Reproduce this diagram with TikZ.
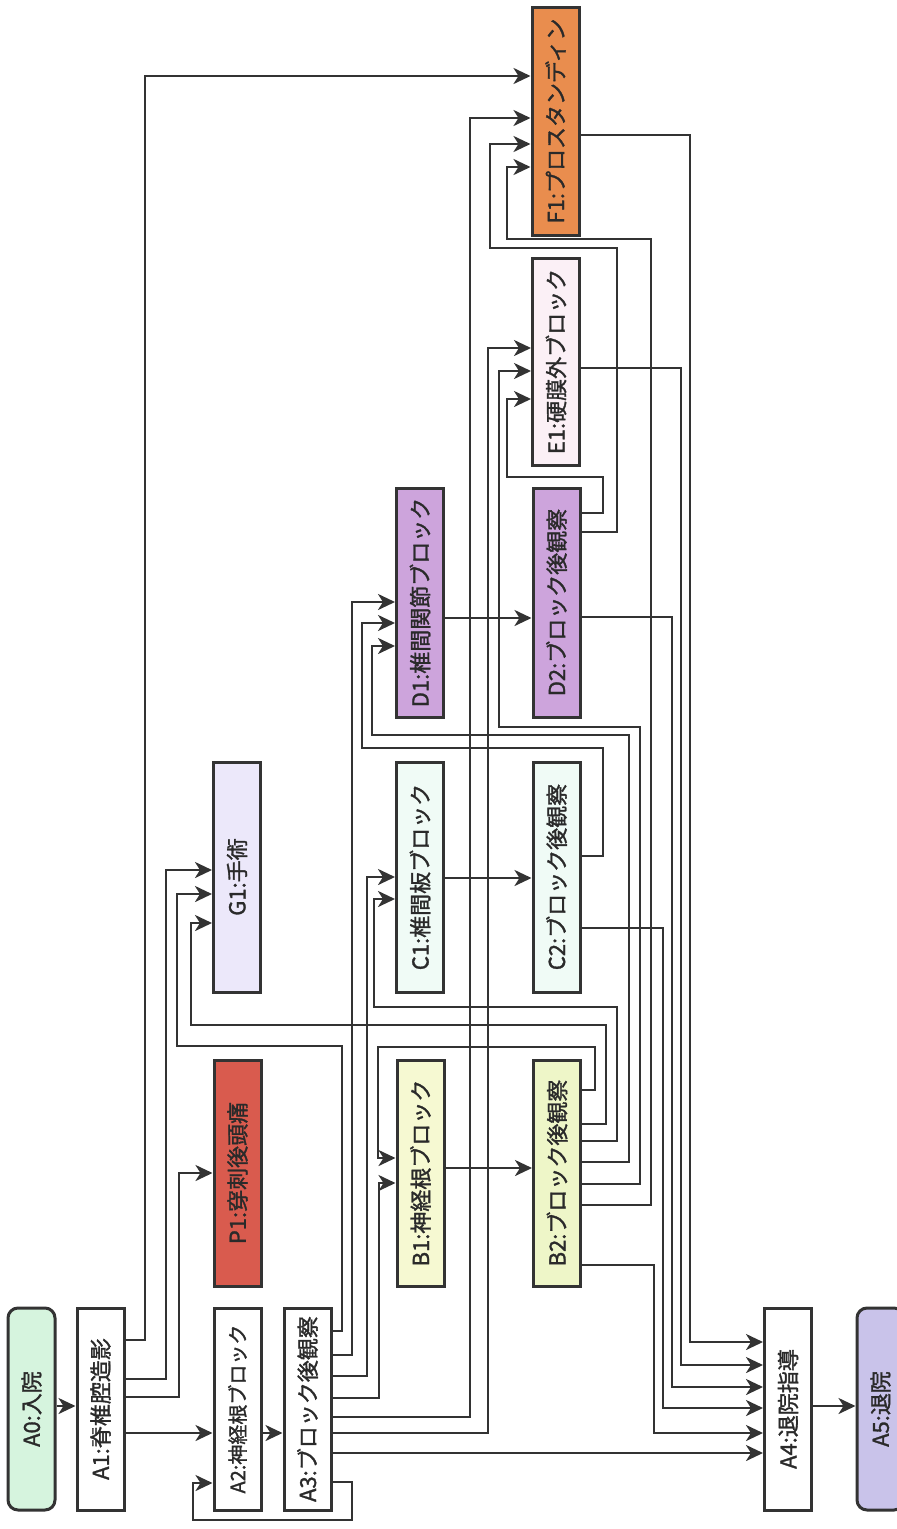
\documentclass[tikz,border=0pt]{standalone}
\usepackage{fontspec}
\usepackage{graphicx}
\newfontfamily\jp[FakeBold=1.4]{Noto Sans CJK JP}
\usetikzlibrary{arrows.meta}
\definecolor{lc}{HTML}{333333}
\definecolor{txt}{HTML}{2A2A2A}
\definecolor{cA0}{HTML}{D6F4DE}
\definecolor{cA5}{HTML}{C9C3EA}
\definecolor{cP1}{HTML}{D95B4E}
\definecolor{cB1}{HTML}{F6F9D2}
\definecolor{cB2}{HTML}{EEF6C8}
\definecolor{cG1}{HTML}{ECE8FA}
\definecolor{cC}{HTML}{F0FBF6}
\definecolor{cD}{HTML}{CDA4DC}
\definecolor{cE1}{HTML}{FBF0F6}
\definecolor{cF1}{HTML}{E98D4E}
\begin{document}
\begin{tikzpicture}[x=1pt,y=-1pt,
  box/.style={draw=lc, line width=3pt, minimum width=47pt, inner sep=0pt, text=txt,
    font=\jp\fontsize{22}{22}\selectfont},
  rbox/.style={box, rounded corners=10pt},
  small/.style={font=\jp\fontsize{20}{20}\selectfont},
  arr/.style={draw=lc, line width=2.7pt, -{Stealth[length=17pt,width=16pt,inset=5pt]}}]
\useasboundingbox (0,0) rectangle (897,1529);
% row A
\node[rbox, fill=cA0, minimum height=202pt] (A0) at (31.5,1409) {\rotatebox{90}{A0:入院}};
\node[box, fill=white, minimum height=202pt] (A1) at (100.5,1409) {\rotatebox{90}{A1:脊椎腔造影}};
\node[box, small, fill=white, minimum height=202pt] (A2) at (237.5,1409) {\rotatebox{90}{A2:神経根ブロック}};
\node[box, fill=white, minimum height=202pt] (A3) at (307.5,1409) {\rotatebox{90}{A3:ブロック後観察}};
\node[box, fill=white, minimum height=202pt] (A4) at (788,1409) {\rotatebox{90}{A4:退院指導}};
\node[rbox, fill=cA5, minimum height=202pt] (A5) at (880.5,1409) {\rotatebox{90}{A5:退院}};
% row B
\node[box, fill=cP1, minimum height=226pt] (P1) at (237.5,1173) {\rotatebox{90}{P1:穿刺後頭痛}};
\node[box, fill=cB1, minimum height=226pt] (B1) at (420.5,1173) {\rotatebox{90}{B1:神経根ブロック}};
\node[box, fill=cB2, minimum height=226pt] (B2) at (557,1173) {\rotatebox{90}{B2:ブロック後観察}};
% row C
\node[box, fill=cG1, minimum height=230pt] (G1) at (237,877) {\rotatebox{90}{G1:手術}};
\node[box, fill=cC, minimum height=230pt] (C1) at (420,877) {\rotatebox{90}{C1:椎間板ブロック}};
\node[box, fill=cC, minimum height=230pt] (C2) at (556.5,877) {\rotatebox{90}{C2:ブロック後観察}};
% row D
\node[box, fill=cD, minimum height=229pt] (D1) at (420,602.5) {\rotatebox{90}{D1:椎間関節ブロック}};
\node[box, fill=cD, minimum height=229pt] (D2) at (556.5,602.5) {\rotatebox{90}{D2:ブロック後観察}};
% E, F
\node[box, fill=cE1, minimum height=207pt] (E1) at (556,361.5) {\rotatebox{90}{E1:硬膜外ブロック}};
\node[box, fill=cF1, minimum height=228pt] (F1) at (555.5,121) {\rotatebox{90}{F1:プロスタンディン}};

% connectors
\draw[arr] (A0.east |- 0,1406) -- (A1.west |- 0,1406);
\draw[arr] (A1.east |- 0,1340) -| (145,76) -- (F1.west |- 0,76);
\draw[arr] (A1.east |- 0,1379) -| (166,870) -- (G1.west |- 0,870);
\draw[arr] (A1.east |- 0,1397) -| (179,1173) -- (P1.west |- 0,1173);
\draw[arr] (A1.east |- 0,1433) -- (A2.west |- 0,1433);
\draw[arr] (A2.east |- 0,1433) -- (A3.west |- 0,1433);
\draw[arr] (A3.east |- 0,1482) -| (352,1520) -| (193,1483) -- (A2.west |- 0,1483);
\draw[arr] (A3.east |- 0,1331) -| (342,1046) -| (177,894) -- (G1.west |- 0,894);
\draw[arr] (A3.east |- 0,1355) -| (352,602) -- (D1.west |- 0,602);
\draw[arr] (A3.east |- 0,1376) -| (367,877) -- (C1.west |- 0,877);
\draw[arr] (A3.east |- 0,1398) -| (379,1183) -- (B1.west |- 0,1183);
\draw[arr] (A3.east |- 0,1417) -| (470,118) -- (F1.west |- 0,118);
\draw[arr] (A3.east |- 0,1433) -| (488,348) -- (E1.west |- 0,348);
\draw[arr] (A3.east |- 0,1453) -- (A4.west |- 0,1453);
\draw[arr] (B1.east |- 0,1168) -- (B2.west |- 0,1168);
\draw[arr] (B2.east |- 0,1090) -| (595,1047) -| (378,1158) -- (B1.west |- 0,1158);
\draw[arr] (B2.east |- 0,1124) -| (606,1025) -| (191,923) -- (G1.west |- 0,923);
\draw[arr] (B2.east |- 0,1141) -| (617,1007) -| (374,899) -- (C1.west |- 0,899);
\draw[arr] (B2.east |- 0,1162) -| (629,735) -| (372,646) -- (D1.west |- 0,646);
\draw[arr] (B2.east |- 0,1184) -| (640,727) -| (499,371) -- (E1.west |- 0,371);
\draw[arr] (B2.east |- 0,1205) -| (651,239) -| (507,167) -- (F1.west |- 0,167);
\draw[arr] (B2.east |- 0,1265) -| (654,1433) -- (A4.west |- 0,1433);
\draw[arr] (C1.east |- 0,878) -- (C2.west |- 0,878);
\draw[arr] (C2.east |- 0,856) -| (603,748) -| (362,623) -- (D1.west |- 0,623);
\draw[arr] (C2.east |- 0,928) -| (663,1408) -- (A4.west |- 0,1408);
\draw[arr] (D1.east |- 0,618) -- (D2.west |- 0,618);
\draw[arr] (D2.east |- 0,513) -| (603,477) -| (507,399) -- (E1.west |- 0,399);
\draw[arr] (D2.east |- 0,532) -| (617,248) -| (490,144) -- (F1.west |- 0,144);
\draw[arr] (D2.east |- 0,617) -| (672,1387) -- (A4.west |- 0,1387);
\draw[arr] (E1.east |- 0,368) -| (681,1365) -- (A4.west |- 0,1365);
\draw[arr] (F1.east |- 0,135) -| (690,1342) -- (A4.west |- 0,1342);
\draw[arr] (A4.east |- 0,1406) -- (A5.west |- 0,1406);
\end{tikzpicture}
\end{document}
